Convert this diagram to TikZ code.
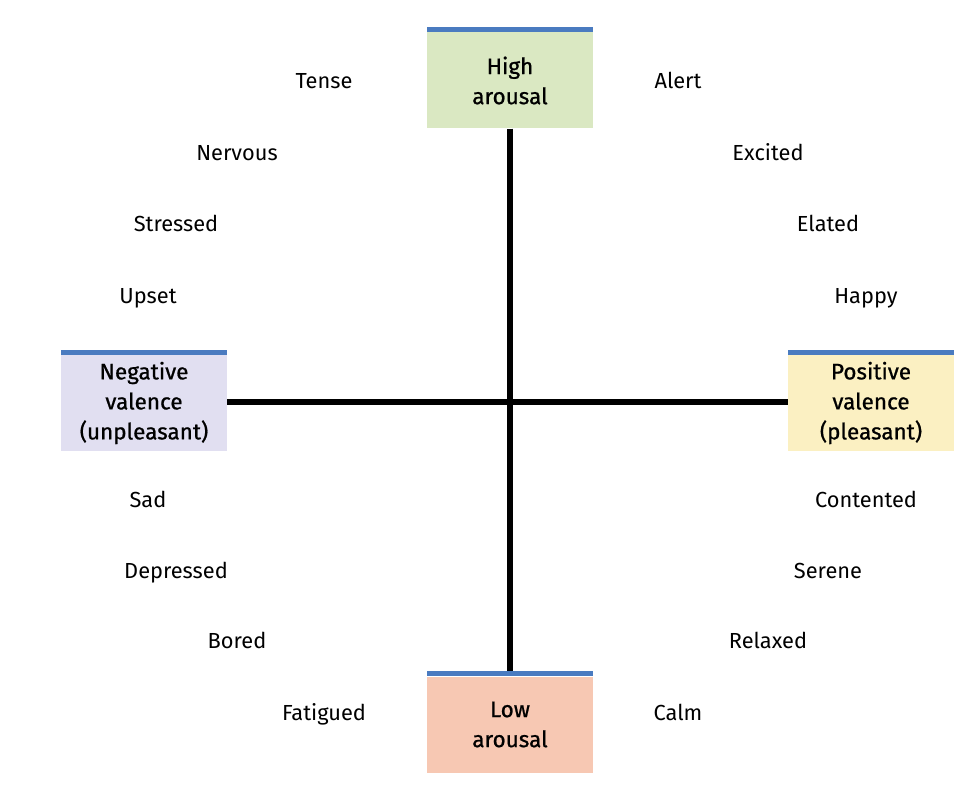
\documentclass[tikz,border=0pt]{standalone}
\usepackage{fontspec}
\setmainfont{Fira Sans}
\newfontfamily\boxfont[FakeBold=0.8]{Fira Sans}
\definecolor{barblue}{HTML}{4A7BC0}
\definecolor{hgreen}{HTML}{DAE8C2}
\definecolor{lpeach}{HTML}{F7C8B3}
\definecolor{nlav}{HTML}{E1DFF1}
\definecolor{pyel}{HTML}{FBF0C2}
\begin{document}
\begin{tikzpicture}[x=1pt,y=-1pt,
  catbox/.style={minimum width=166pt,minimum height=96pt,inner sep=0pt,align=center,
    font=\boxfont\fontsize{22.5}{30}\selectfont},
  word/.style={font=\fontsize{21.8}{25}\selectfont,inner sep=0pt,text height=15pt,text depth=0pt},
  axis/.style={line width=6.8pt,black}]
\useasboundingbox (0,0) rectangle (966,789);
\node[catbox,fill=hgreen] (high) at (510,80.5) {High\\arousal};
\node[catbox,fill=lpeach] (low) at (510,724.5) {Low\\arousal};
\node[catbox,fill=nlav] (neg) at (144,403) {Negative\\valence\\(unpleasant)};
\node[catbox,fill=pyel] (pos) at (871,403) {Positive\\valence\\(pleasant)};
\foreach \n in {high,low,neg,pos}{
  \fill[barblue] (\n.north west) rectangle ([yshift=5pt]\n.north east);
}
\draw[axis] (high.south) -- ([yshift=5pt]low.north);
\draw[axis] ([yshift=1pt]neg.east) -- ([yshift=1pt]pos.west);
% upper left
\node[word] (tense) at (324,81) {Tense};
\node[word] (nervous) at (237,153) {Nervous};
\node[word] (stressed) at (176,224) {Stressed};
\node[word] (upset) at (148,296) {Upset};
% upper right
\node[word] (alert) at (678,81) {Alert};
\node[word] (excited) at (768,153) {Excited};
\node[word] (elated) at (828,224) {Elated};
\node[word] (happy) at (866,296) {Happy};
% lower left
\node[word] (sad) at (148,500) {Sad};
\node[word] (depressed) at (176,571) {Depressed};
\node[word] (bored) at (237,641) {Bored};
\node[word] (fatigued) at (324,713) {Fatigued};
% lower right
\node[word] (contented) at (866,500) {Contented};
\node[word] (serene) at (828,571) {Serene};
\node[word] (relaxed) at (768,641) {Relaxed};
\node[word] (calm) at (678,713) {Calm};
\end{tikzpicture}
\end{document}
